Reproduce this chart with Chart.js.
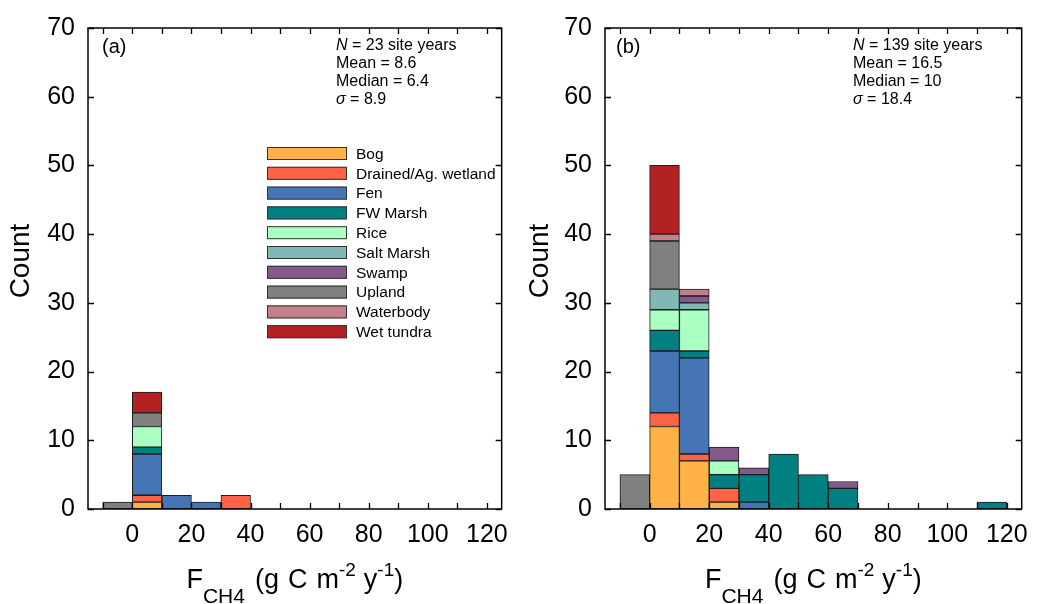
<!DOCTYPE html>
<html>
<head>
<meta charset="utf-8">
<title>FCH4 histograms</title>
<script src="https://cdn.jsdelivr.net/npm/chart.js@4.4.0/dist/chart.umd.min.js"></script>
<style>
  html, body { margin: 0; padding: 0; background: #fff; }
  #wrap { position: relative; width: 1039px; height: 604px; }
  canvas { position: absolute; top: 0; }
  #ca { left: 0; }
  #cb { left: 519px; }
</style>
</head>
<body>
<div id="wrap">
  <canvas id="ca" width="519" height="604"></canvas>
  <canvas id="cb" width="520" height="604"></canvas>
</div>
<script>
"use strict";

// Histogram bins (left edge, bins are 10 wide)
var binStarts = [-10, 0, 10, 20, 30, 40, 50, 60, 70, 80, 90, 100, 110];
var wetlandTypes = ["Bog", "Drained/Ag. wetland", "Fen", "FW Marsh", "Rice",
                    "Salt Marsh", "Swamp", "Upland", "Waterbody", "Wet tundra"];

// Axis ticks
var xTicks = [-10, 0, 10, 20, 30, 40, 50, 60, 70, 80, 90, 100, 110, 120];
var xTickLabels = [0, 20, 40, 60, 80, 100, 120];
var yTicks = [0, 10, 20, 30, 40, 50, 60, 70];

// Panel (a) counts per bin
var aBog       = [0, 1, 0, 0, 0, 0, 0, 0, 0, 0, 0, 0, 0];
var aDrained   = [0, 1, 0, 0, 2, 0, 0, 0, 0, 0, 0, 0, 0];
var aFen       = [0, 6, 2, 1, 0, 0, 0, 0, 0, 0, 0, 0, 0];
var aFwMarsh   = [0, 1, 0, 0, 0, 0, 0, 0, 0, 0, 0, 0, 0];
var aRice      = [0, 3, 0, 0, 0, 0, 0, 0, 0, 0, 0, 0, 0];
var aSaltMarsh = [0, 0, 0, 0, 0, 0, 0, 0, 0, 0, 0, 0, 0];
var aSwamp     = [0, 0, 0, 0, 0, 0, 0, 0, 0, 0, 0, 0, 0];
var aUpland    = [1, 2, 0, 0, 0, 0, 0, 0, 0, 0, 0, 0, 0];
var aWaterbody = [0, 0, 0, 0, 0, 0, 0, 0, 0, 0, 0, 0, 0];
var aWetTundra = [0, 3, 0, 0, 0, 0, 0, 0, 0, 0, 0, 0, 0];

// Panel (b) counts per bin
var bBog       = [0, 12, 7, 1, 0, 0, 0, 0, 0, 0, 0, 0, 0];
var bDrained   = [0, 2, 1, 2, 0, 0, 0, 0, 0, 0, 0, 0, 0];
var bFen       = [0, 9, 14, 0, 1, 0, 0, 0, 0, 0, 0, 0, 0];
var bFwMarsh   = [0, 3, 1, 2, 4, 8, 5, 3, 0, 0, 0, 0, 1];
var bRice      = [0, 3, 6, 2, 0, 0, 0, 0, 0, 0, 0, 0, 0];
var bSaltMarsh = [0, 3, 1, 0, 0, 0, 0, 0, 0, 0, 0, 0, 0];
var bSwamp     = [0, 0, 1, 2, 1, 0, 0, 1, 0, 0, 0, 0, 0];
var bUpland    = [5, 7, 0, 0, 0, 0, 0, 0, 0, 0, 0, 0, 0];
var bWaterbody = [0, 1, 1, 0, 0, 0, 0, 0, 0, 0, 0, 0, 0];
var bWetTundra = [0, 10, 0, 0, 0, 0, 0, 0, 0, 0, 0, 0, 0];

// Summary text
var statsA = ["23 site years", "Mean = 8.6", "Median = 6.4", "8.9"];
var statsB = ["139 site years", "Mean = 16.5", "Median = 10", "18.4"];

var typeColors = ["#FFB347", "#FF6347", "#4575B4", "#008080", "#AAFFC3",
                  "#80B8B6", "#845A8A", "#808080", "#C6808C", "#B22222"];

var FONT = "'Liberation Sans', Arial, Helvetica, sans-serif";


function buildDatasets(series) {
    return series.map(function (counts, k) {
        return {
            label: wetlandTypes[k],
            data: binStarts.map(function (b, i) {
                return { x: b + 5, y: counts[i] > 0 ? counts[i] : null };
            }),
            backgroundColor: typeColors[k],
            borderColor: "#1c1c1c",
            borderWidth: 1,
            borderSkipped: false,
            barPercentage: 1,
            categoryPercentage: 1
        };
    });
}


function drawDecor(chart, panel) {
    var ctx = chart.ctx, area = chart.chartArea;
    var xs = chart.scales.x, ys = chart.scales.y;
    ctx.save();

    // Frame
    ctx.strokeStyle = "#000";
    ctx.lineWidth = 1.5;
    ctx.strokeRect(area.left, area.top, area.right - area.left, area.bottom - area.top);

    // Inward ticks on all four sides
    ctx.lineWidth = 1.3;
    ctx.beginPath();
    xTicks.forEach(function (v) {
        var px = Math.round(xs.getPixelForValue(v)) + 0.5;
        ctx.moveTo(px, area.bottom); ctx.lineTo(px, area.bottom - 6);
        ctx.moveTo(px, area.top); ctx.lineTo(px, area.top + 6);
    });
    yTicks.forEach(function (v) {
        var py = Math.round(ys.getPixelForValue(v)) + 0.5;
        ctx.moveTo(area.left, py); ctx.lineTo(area.left + 6, py);
        ctx.moveTo(area.right, py); ctx.lineTo(area.right - 6, py);
    });
    ctx.stroke();

    ctx.fillStyle = "#000";

    // Panel letter
    ctx.textBaseline = "middle";
    ctx.textAlign = "left";
    ctx.font = "20px " + FONT;
    ctx.fillText(panel.letter, area.left + panel.letterDx, 47);

    // Summary statistics
    var sx = area.left + 248, sy = 45.7, step = 18.1;
    ctx.font = "italic 16px " + FONT;
    ctx.fillText("N", sx, sy);
    var nw = ctx.measureText("N").width;
    ctx.font = "16px " + FONT;
    ctx.fillText(" = " + panel.stats[0], sx + nw, sy);
    ctx.fillText(panel.stats[1], sx, sy + step);
    ctx.fillText(panel.stats[2], sx, sy + 2 * step);
    ctx.font = "italic 16px " + FONT;
    ctx.fillText("\u03C3", sx, sy + 3 * step);
    var sw = ctx.measureText("\u03C3").width;
    ctx.font = "16px " + FONT;
    ctx.fillText(" = " + panel.stats[3], sx + sw, sy + 3 * step);

    // Legend
    if (panel.legend) {
        var lx = area.left + 179, ly = area.top + 119, pitch = 19.8;
        chart.data.datasets.forEach(function (ds, k) {
            var top = ly + k * pitch;
            ctx.fillStyle = ds.backgroundColor;
            ctx.fillRect(lx, top, 80, 13);
            ctx.strokeStyle = "#333";
            ctx.lineWidth = 1;
            ctx.strokeRect(lx + 0.5, top + 0.5, 79, 12);
            ctx.fillStyle = "#000";
            ctx.font = "15.5px " + FONT;
            ctx.fillText(ds.label, lx + 89, top + 7.5);
        });
    }

    // Y axis title
    ctx.save();
    ctx.translate(21.5, 261);
    ctx.rotate(-Math.PI / 2);
    ctx.textAlign = "center";
    ctx.font = "28px " + FONT;
    ctx.fillText("Count", 0, 0);
    ctx.restore();

    // X axis title with sub/superscripts
    var base = 588;
    var parts = [
        { t: "F", f: 27, dy: 0 },
        { t: "CH4", f: 21, dy: 15 },
        { gap: 10 },
        { t: "(g", f: 27, dy: 0 },
        { gap: 9 },
        { t: "C", f: 27, dy: 0 },
        { gap: 9 },
        { t: "m", f: 27, dy: 0 },
        { t: "-2", f: 19, dy: -12 },
        { gap: 8 },
        { t: "y", f: 27, dy: 0 },
        { t: "-1", f: 19, dy: -12 },
        { t: ")", f: 27, dy: 0 }
    ];
    var total = 0;
    parts.forEach(function (p) {
        if (p.gap) { p.w = p.gap; }
        else { ctx.font = p.f + "px " + FONT; p.w = ctx.measureText(p.t).width; }
        total += p.w;
    });
    var cx = (area.left + area.right) / 2 - total / 2;
    ctx.textAlign = "left";
    ctx.textBaseline = "alphabetic";
    parts.forEach(function (p) {
        if (!p.gap) {
            ctx.font = p.f + "px " + FONT;
            ctx.fillText(p.t, cx, base + p.dy);
        }
        cx += p.w;
    });

    ctx.restore();
}


function makePanel(canvasId, series, panel) {
    var ctx = document.getElementById(canvasId).getContext("2d");
    return new Chart(ctx, {
        type: "bar",
        data: { datasets: buildDatasets(series) },
        options: {
            responsive: false,
            animation: false,
            devicePixelRatio: 1,
            layout: { padding: { top: 17, right: panel.padRight, left: 0, bottom: 0 } },
            plugins: {
                legend: { display: false },
                tooltip: { enabled: false },
                title: { display: false }
            },
            scales: {
                x: {
                    type: "linear",
                    stacked: true,
                    offset: false,
                    min: -15,
                    max: 125,
                    grid: { display: false, drawTicks: false, offset: false },
                    border: { display: false },
                    afterBuildTicks: function (scale) {
                        scale.ticks = xTicks.map(function (v) { return { value: v }; });
                    },
                    afterFit: function (scale) { scale.height = 95; },
                    ticks: {
                        autoSkip: false,
                        maxRotation: 0,
                        padding: 11,
                        color: "#000",
                        font: { family: FONT, size: 25 },
                        callback: function (v) {
                            return xTickLabels.indexOf(v) >= 0 ? String(v) : "";
                        }
                    }
                },
                y: {
                    stacked: true,
                    min: 0,
                    max: 70,
                    grid: { display: false, drawTicks: false },
                    border: { display: false },
                    afterBuildTicks: function (scale) {
                        scale.ticks = yTicks.map(function (v) { return { value: v }; });
                    },
                    afterFit: function (scale) { scale.width = panel.yWidth; },
                    ticks: {
                        padding: 13,
                        color: "#000",
                        font: { family: FONT, size: 25 }
                    }
                }
            }
        },
        plugins: [{
            id: "decor",
            afterDraw: function (chart) { drawDecor(chart, panel); }
        }]
    });
}


makePanel("ca",
    [aBog, aDrained, aFen, aFwMarsh, aRice, aSaltMarsh, aSwamp, aUpland, aWaterbody, aWetTundra],
    { letter: "(a)", letterDx: 14, stats: statsA, legend: true, yWidth: 88, padRight: 7 });

makePanel("cb",
    [bBog, bDrained, bFen, bFwMarsh, bRice, bSaltMarsh, bSwamp, bUpland, bWaterbody, bWetTundra],
    { letter: "(b)", letterDx: 11, stats: statsB, legend: false, yWidth: 86, padRight: 9 });
</script>
</body>
</html>
